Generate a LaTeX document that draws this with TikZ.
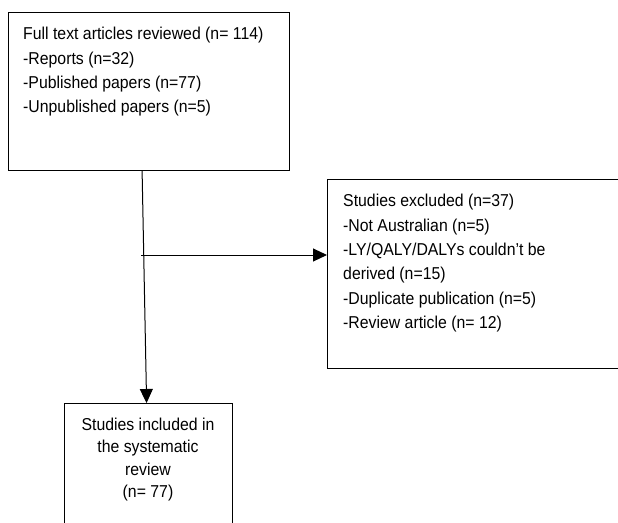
\documentclass[tikz,border=0pt]{standalone}
\usepackage{fontspec}
\setmainfont[FakeStretch=0.92]{Liberation Sans}
\usetikzlibrary{arrows.meta,positioning,calc}

\begin{document}
\begin{tikzpicture}[x=1pt,y=-1pt,
		box/.style={draw, line width=1.2pt, inner sep=0pt, anchor=north west},
		boxtext/.style={anchor=north west, inner sep=0pt, align=left, font=\fontsize{17.2}{24.4}\selectfont},
		flow/.style={line width=1pt, -{Triangle[length=14pt,width=13pt]}}]
			%%%%% START %%%%%
			
			\useasboundingbox (0,0) rectangle (618,522);
			\clip (0,0) rectangle (618,522);
			
			\node[box, minimum width=281pt, minimum height=158pt] (reviewed) at (8,12) {};
			\node[boxtext] (reviewedtext) at (23,27) {Full text articles reviewed (n= 114)\\-Reports (n=32)\\-Published papers (n=77)\\-Unpublished papers (n=5)};
			
			\node[box, minimum width=300pt, minimum height=189pt] (excluded) at (327,179) {};
			\node[boxtext] (excludedtext) at (343,194) {Studies excluded (n=37)\\-Not Australian (n=5)\\-LY/QALY/DALYs couldn't be\\derived (n=15)\\-Duplicate publication (n=5)\\-Review article (n= 12)};
			
			\node[box, minimum width=168pt, minimum height=140pt] (included) at (64,403) {};
			\node[boxtext, anchor=north, align=center, font=\fontsize{17.2}{22.3}\selectfont] (includedtext) at (148,418) {Studies included in\\the systematic\\review\\(n= 77)};
			
			\draw[flow] ([xshift=-7pt]reviewed.south) -- ([xshift=-2pt]included.north);
			
			\coordinate (split) at (141,255);
			\draw[flow] (split) -- (split -| excluded.west);
			
			%%%%% END %%%%%
\end{tikzpicture}
\end{document}
